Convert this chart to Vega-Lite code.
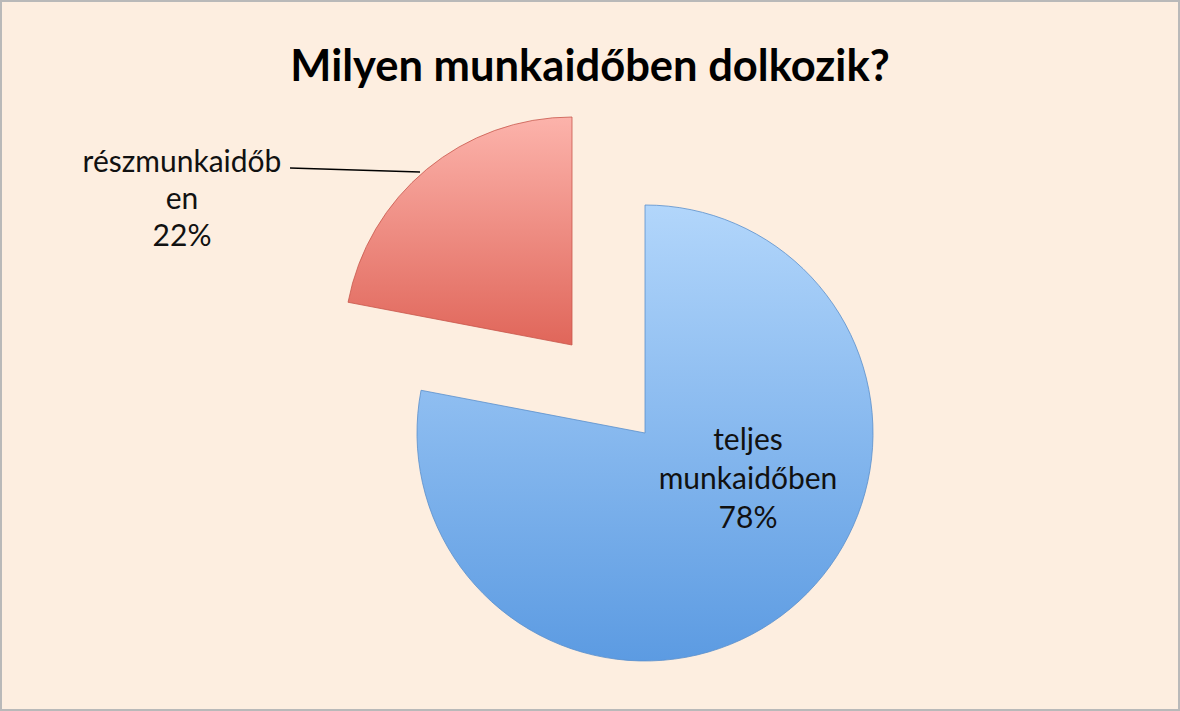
{
  "$schema": "https://vega.github.io/schema/vega-lite/v6.json",
  "width": 1180,
  "height": 711,
  "autosize": "none",
  "padding": 0,
  "background": "#fdeee0",
  "config": {"view": {"stroke": "#b9b9b9", "strokeWidth": 4}, "font": "Lato"},
  "title": {
    "text": "Milyen munkaidőben dolkozik?",
    "font": "Lato",
    "fontSize": 43.5,
    "fontWeight": "bold",
    "color": "#000000",
    "anchor": "middle",
    "baseline": "alphabetic",
    "offset": -124
  },
  "data": {
    "values": [
      {"category": "teljes munkaidőben", "label": "teljes\nmunkaidőben\n78%", "value": 78, "order": 1},
      {"category": "részmunkaidőben", "label": "részmunkaidőb\nen\n22%", "value": 22, "order": 2}
    ]
  },
  "transform": [
    {"stack": "value", "groupby": [], "sort": [{"field": "order", "order": "ascending"}], "as": ["start", "end"]}
  ],
  "layer": [
    {
      "transform": [{"filter": "datum.order == 1"}],
      "mark": {
        "type": "arc",
        "outerRadius": 228,
        "xOffset": 55,
        "yOffset": 77.5,
        "stroke": "#5a8fcc",
        "strokeWidth": 0.8,
        "fill": {
          "gradient": "linear", "x1": 0, "y1": 0, "x2": 0, "y2": 1,
          "stops": [{"offset": 0, "color": "#b2d6fb"}, {"offset": 1, "color": "#5c9be2"}]
        }
      },
      "encoding": {
        "theta": {"field": "start", "type": "quantitative", "scale": {"domain": [0, 100]}},
        "theta2": {"field": "end"}
      }
    },
    {
      "transform": [{"filter": "datum.order == 2"}],
      "mark": {
        "type": "arc",
        "outerRadius": 228,
        "xOffset": -18,
        "yOffset": -10.5,
        "stroke": "#c8574b",
        "strokeWidth": 0.8,
        "fill": {
          "gradient": "linear", "x1": 0, "y1": 0, "x2": 0, "y2": 1,
          "stops": [{"offset": 0, "color": "#fcb3ab"}, {"offset": 1, "color": "#e0665a"}]
        }
      },
      "encoding": {
        "theta": {"field": "start", "type": "quantitative", "scale": {"domain": [0, 100]}},
        "theta2": {"field": "end"}
      }
    },
    {
      "transform": [{"filter": "datum.order == 2"}],
      "mark": {"type": "rule", "stroke": "#000000", "strokeWidth": 1.5},
      "encoding": {
        "x": {"value": 290}, "y": {"value": 168},
        "x2": {"value": 420}, "y2": {"value": 172}
      }
    },
    {
      "transform": [{"filter": "datum.order == 1"}],
      "mark": {"type": "text", "font": "Lato", "fontSize": 30, "color": "#111111", "align": "center", "baseline": "middle", "lineHeight": 39, "lineBreak": "\n", "dx": 158, "dy": 85},
      "encoding": {"text": {"field": "label"}}
    },
    {
      "transform": [{"filter": "datum.order == 2"}],
      "mark": {"type": "text", "font": "Lato", "fontSize": 30, "color": "#111111", "align": "center", "baseline": "middle", "lineHeight": 37, "lineBreak": "\n", "dx": -408, "dy": -192.5},
      "encoding": {"text": {"field": "label"}}
    }
  ]
}
